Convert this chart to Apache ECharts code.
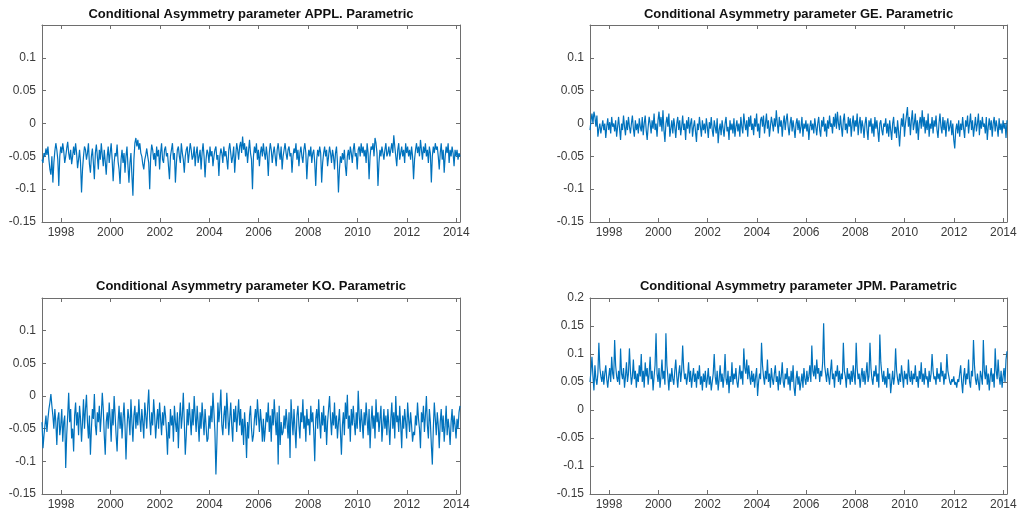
<!DOCTYPE html>
<html>
<head>
<meta charset="utf-8">
<script src="https://cdn.jsdelivr.net/npm/echarts@6/dist/echarts.min.js"></script>
<style>
html,body{margin:0;padding:0;background:#fff;}
#chart{width:1021px;height:516px;}
</style>
</head>
<body>
<div id="chart"></div>
<script>
// ---- data ----
const yearTicks = [1998, 2000, 2002, 2004, 2006, 2008, 2010, 2012, 2014];
const dateStart = 1997.23;
const dateEnd = 2014.15;

const titles = [
  'Conditional Asymmetry parameter APPL. Parametric',
  'Conditional Asymmetry parameter GE. Parametric',
  'Conditional Asymmetry parameter KO. Parametric',
  'Conditional Asymmetry parameter JPM. Parametric'
];

const applValues = [
-0.055,-0.06,-0.045,-0.05,-0.038,-0.048,-0.035,-0.055,-0.07,-0.078,-0.05,-0.09,-0.06,-0.042,-0.03,-0.04,-0.055,-0.095,-0.05,-0.035,-0.045,-0.03,-0.042,-0.06,-0.05,
-0.038,-0.028,-0.045,-0.055,-0.04,-0.062,-0.05,-0.035,-0.048,-0.03,-0.045,-0.068,-0.055,-0.04,-0.06,-0.105,-0.07,-0.05,-0.035,-0.04,-0.055,-0.045,-0.03,-0.062,-0.075,
-0.05,-0.038,-0.06,-0.085,-0.045,-0.032,-0.05,-0.07,-0.04,-0.055,-0.03,-0.048,-0.065,-0.04,-0.058,-0.078,-0.05,-0.035,-0.06,-0.045,-0.03,-0.055,-0.088,-0.06,-0.045,
-0.05,-0.032,-0.058,-0.07,-0.092,-0.055,-0.04,-0.06,-0.045,-0.075,-0.05,-0.035,-0.065,-0.09,-0.06,-0.045,-0.08,-0.11,-0.055,-0.03,-0.022,-0.035,-0.025,-0.04,-0.03,
-0.045,-0.05,-0.062,-0.07,-0.055,-0.048,-0.038,-0.05,-0.06,-0.1,-0.05,-0.032,-0.04,-0.055,-0.045,-0.065,-0.035,-0.05,-0.04,-0.07,-0.045,-0.03,-0.055,-0.06,-0.04,
-0.035,-0.05,-0.045,-0.065,-0.085,-0.05,-0.04,-0.03,-0.055,-0.045,-0.09,-0.06,-0.04,-0.035,-0.05,-0.06,-0.03,-0.045,-0.055,-0.075,-0.05,-0.04,-0.035,-0.06,-0.045,
-0.03,-0.04,-0.055,-0.05,-0.035,-0.065,-0.045,-0.035,-0.06,-0.05,-0.04,-0.07,-0.045,-0.03,-0.05,-0.082,-0.055,-0.04,-0.045,-0.06,-0.035,-0.05,-0.042,-0.065,-0.05,
-0.04,-0.035,-0.055,-0.048,-0.08,-0.05,-0.038,-0.045,-0.06,-0.035,-0.05,-0.042,-0.055,-0.07,-0.04,-0.03,-0.045,-0.06,-0.05,-0.035,-0.075,-0.05,-0.03,-0.04,-0.055,
-0.035,-0.028,-0.045,-0.02,-0.04,-0.03,-0.05,-0.035,-0.06,-0.042,-0.025,-0.045,-0.055,-0.1,-0.05,-0.035,-0.045,-0.03,-0.055,-0.04,-0.065,-0.045,-0.035,-0.05,-0.03,
-0.045,-0.055,-0.035,-0.05,-0.08,-0.045,-0.03,-0.04,-0.06,-0.045,-0.035,-0.05,-0.065,-0.04,-0.03,-0.045,-0.055,-0.035,-0.07,-0.05,-0.04,-0.03,-0.045,-0.055,-0.04,
-0.035,-0.05,-0.045,-0.075,-0.05,-0.038,-0.045,-0.03,-0.055,-0.04,-0.065,-0.045,-0.035,-0.05,-0.06,-0.04,-0.03,-0.045,-0.085,-0.055,-0.04,-0.05,-0.035,-0.06,-0.045,
-0.04,-0.06,-0.095,-0.055,-0.04,-0.05,-0.035,-0.045,-0.09,-0.06,-0.045,-0.035,-0.05,-0.04,-0.065,-0.05,-0.035,-0.045,-0.06,-0.04,-0.05,-0.07,-0.045,-0.035,-0.06,
-0.105,-0.07,-0.05,-0.06,-0.045,-0.055,-0.04,-0.065,-0.08,-0.05,-0.04,-0.055,-0.035,-0.045,-0.06,-0.04,-0.03,-0.05,-0.045,-0.07,-0.04,-0.035,-0.05,-0.03,-0.045,
-0.035,-0.05,-0.04,-0.06,-0.03,-0.045,-0.085,-0.05,-0.035,-0.04,-0.03,-0.05,-0.022,-0.03,-0.045,-0.095,-0.06,-0.04,-0.05,-0.035,-0.045,-0.055,-0.04,-0.03,-0.05,
-0.045,-0.035,-0.05,-0.04,-0.03,-0.045,-0.018,-0.035,-0.05,-0.065,-0.04,-0.03,-0.055,-0.045,-0.035,-0.05,-0.04,-0.06,-0.03,-0.045,-0.035,-0.05,-0.04,-0.055,-0.035,
-0.05,-0.085,-0.055,-0.04,-0.03,-0.045,-0.035,-0.05,-0.025,-0.04,-0.055,-0.035,-0.045,-0.03,-0.05,-0.04,-0.06,-0.035,-0.045,-0.09,-0.05,-0.035,-0.045,-0.03,-0.04,
-0.035,-0.05,-0.07,-0.045,-0.03,-0.055,-0.04,-0.075,-0.05,-0.035,-0.045,-0.03,-0.06,-0.04,-0.05,-0.035,-0.045,-0.065,-0.04,-0.05,-0.04,-0.055,-0.045,-0.05
];

const geValues = [
-0.01,0.005,0.015,0.0,0.018,0.01,-0.005,0.012,-0.02,-0.008,0.0,-0.015,-0.005,0.005,-0.01,0.0,-0.022,-0.005,0.008,-0.01,0.002,-0.015,0.01,-0.005,0.0,
-0.012,0.005,-0.02,-0.005,0.01,-0.008,-0.025,0.0,-0.01,0.012,-0.005,-0.018,0.005,-0.01,0.01,-0.005,-0.015,0.0,0.012,-0.008,-0.02,0.005,-0.01,0.0,-0.015,
0.008,-0.005,-0.012,0.01,-0.018,0.0,0.012,-0.01,-0.025,-0.005,0.01,0.0,-0.015,0.005,-0.008,0.015,-0.01,0.0,-0.02,0.005,0.018,-0.005,0.01,-0.012,0.02,
-0.01,-0.028,0.0,0.01,-0.005,0.015,-0.02,-0.008,0.005,-0.015,0.008,-0.005,-0.022,0.0,0.01,-0.01,0.005,-0.018,-0.005,0.012,-0.01,0.0,-0.025,0.005,-0.008,
0.01,-0.015,0.0,0.008,-0.02,-0.005,0.005,-0.012,-0.028,0.0,-0.01,0.01,-0.005,-0.02,0.005,-0.01,0.0,-0.015,0.008,-0.005,-0.022,0.002,-0.008,0.01,-0.01,
-0.02,0.005,-0.005,-0.015,0.008,-0.03,-0.01,0.0,-0.018,0.005,-0.008,-0.02,0.0,0.01,-0.012,-0.005,-0.025,0.005,-0.01,0.0,-0.015,0.008,-0.02,-0.005,0.005,
-0.012,0.0,-0.02,0.01,-0.005,-0.015,0.015,0.0,-0.01,0.005,-0.02,0.01,-0.005,0.012,-0.01,0.0,-0.018,0.008,-0.005,0.015,-0.012,0.0,-0.022,0.005,0.01,
-0.005,0.012,-0.015,0.0,0.015,-0.008,0.005,-0.02,-0.005,0.01,0.0,-0.012,0.008,-0.005,0.02,0.0,-0.015,0.01,-0.005,0.005,-0.02,0.0,0.012,-0.01,0.005,
0.015,-0.005,-0.018,0.0,0.01,-0.012,0.005,-0.008,-0.022,0.0,0.008,-0.01,0.005,-0.015,-0.005,0.01,-0.02,0.0,-0.008,0.005,-0.012,0.0,-0.025,-0.005,0.005,
-0.01,0.0,-0.015,0.008,-0.005,-0.018,0.0,0.01,-0.01,-0.02,0.005,-0.005,0.01,-0.012,0.0,-0.02,0.005,-0.008,0.012,-0.005,0.0,-0.015,0.01,-0.005,0.015,
-0.008,0.018,0.0,-0.01,0.012,-0.005,-0.02,0.005,0.015,-0.01,0.0,-0.015,0.01,-0.005,0.008,-0.02,0.0,0.012,-0.012,0.005,-0.005,0.015,-0.018,0.0,0.01,
-0.015,0.005,-0.005,-0.022,0.0,0.01,-0.01,-0.025,0.005,-0.005,0.008,-0.015,0.0,-0.02,0.01,-0.008,0.005,-0.012,-0.028,0.0,0.005,-0.01,-0.018,0.0,-0.005,
0.008,-0.015,0.0,-0.02,0.005,-0.01,-0.025,0.0,0.01,-0.015,-0.005,-0.022,0.005,-0.012,-0.035,-0.01,0.008,-0.005,0.015,-0.02,0.0,0.012,0.025,-0.005,0.01,
-0.018,0.005,0.02,-0.01,0.0,0.015,-0.015,0.005,-0.025,0.0,0.01,-0.008,0.02,-0.005,0.01,-0.015,0.005,-0.01,0.015,-0.02,0.0,-0.008,0.01,-0.015,0.005,
-0.005,0.012,-0.01,-0.022,0.0,0.015,-0.005,-0.015,0.01,-0.01,0.005,-0.02,0.0,0.008,-0.012,-0.005,0.005,-0.018,0.0,-0.025,-0.038,-0.01,0.0,-0.015,0.005,
-0.02,0.0,-0.01,0.01,-0.008,-0.022,0.005,-0.005,0.012,-0.015,0.0,0.015,-0.01,0.005,-0.02,-0.005,0.01,-0.012,0.0,0.015,-0.018,0.005,-0.008,0.01,-0.005,
0.0,-0.015,0.01,-0.025,-0.005,0.008,-0.01,0.005,-0.02,0.0,0.01,-0.012,0.005,-0.005,-0.02,0.008,-0.01,0.0,-0.015,0.005,-0.008,0.0,-0.022,0.005
];

const koValues = [
-0.04,-0.08,-0.06,-0.045,-0.03,-0.055,-0.035,-0.02,-0.01,0.003,-0.015,-0.03,-0.05,-0.02,-0.04,-0.075,-0.035,-0.025,-0.06,-0.045,-0.02,-0.07,-0.04,-0.03,-0.11,
-0.06,-0.03,0.005,-0.04,-0.02,-0.065,-0.05,-0.085,-0.03,-0.01,-0.045,-0.025,-0.06,-0.015,-0.035,-0.07,-0.04,-0.005,-0.05,-0.02,0.002,-0.04,-0.065,-0.03,-0.09,
-0.05,-0.02,-0.035,0.003,-0.045,-0.06,-0.025,-0.04,-0.015,-0.055,-0.03,0.005,-0.02,-0.06,-0.09,-0.04,-0.025,-0.05,-0.01,-0.035,-0.07,-0.02,-0.045,0.0,-0.03,
-0.06,-0.085,-0.04,-0.015,-0.05,-0.025,-0.065,-0.035,-0.01,-0.045,-0.097,-0.05,-0.02,-0.035,-0.06,-0.005,-0.04,-0.07,-0.03,-0.015,-0.05,-0.025,-0.045,-0.005,-0.035,
-0.055,-0.02,-0.04,-0.065,-0.01,-0.03,-0.05,-0.015,0.01,-0.035,-0.06,-0.025,-0.045,-0.005,-0.03,-0.065,-0.04,-0.02,-0.05,-0.01,-0.035,-0.06,-0.025,-0.045,-0.015,
-0.03,-0.055,-0.09,-0.04,-0.065,-0.02,-0.045,-0.03,-0.07,-0.015,-0.04,-0.055,-0.025,-0.08,-0.035,-0.01,-0.05,-0.03,0.005,-0.04,-0.09,-0.06,-0.02,-0.045,-0.01,
-0.035,-0.06,-0.02,-0.045,0.0,-0.03,-0.055,-0.015,-0.04,-0.07,-0.025,-0.05,-0.01,-0.035,-0.06,-0.02,-0.045,-0.07,-0.065,-0.03,-0.05,-0.015,-0.04,0.005,-0.025,
-0.055,-0.12,-0.07,-0.01,-0.04,-0.02,0.01,-0.045,-0.06,-0.03,-0.015,-0.05,0.005,-0.025,-0.06,-0.035,-0.01,-0.045,-0.07,-0.02,-0.04,-0.015,-0.055,-0.03,-0.005,
-0.045,-0.02,-0.06,-0.035,-0.075,-0.025,-0.05,-0.095,-0.04,-0.065,-0.03,-0.015,-0.05,-0.07,-0.06,-0.035,-0.02,-0.045,-0.005,-0.03,-0.055,-0.02,-0.04,-0.07,-0.035,
-0.07,-0.05,-0.025,-0.04,-0.01,-0.055,-0.03,-0.07,-0.02,-0.045,-0.005,-0.035,-0.06,-0.025,-0.105,-0.015,-0.075,-0.04,-0.06,-0.055,-0.03,-0.05,-0.02,-0.04,-0.065,
-0.025,-0.095,-0.005,-0.035,-0.06,-0.02,-0.05,-0.08,-0.03,-0.015,-0.045,-0.065,-0.025,-0.04,-0.005,-0.05,-0.03,-0.07,-0.02,-0.045,-0.035,-0.06,-0.015,-0.04,-0.025,
-0.055,-0.1,-0.035,-0.02,-0.05,-0.005,-0.04,-0.065,-0.025,-0.045,-0.015,-0.055,-0.03,-0.075,-0.04,-0.02,0.0,-0.035,-0.06,-0.025,-0.045,-0.01,-0.05,-0.03,-0.065,
-0.04,-0.02,-0.055,-0.09,-0.045,-0.025,-0.06,-0.01,-0.035,0.002,-0.05,-0.03,-0.07,-0.02,-0.045,-0.015,-0.04,-0.06,-0.025,-0.05,0.008,-0.03,-0.055,-0.02,-0.04,
-0.065,-0.025,-0.045,-0.01,-0.035,-0.06,-0.02,-0.08,-0.04,-0.015,-0.05,-0.03,-0.065,-0.005,-0.04,-0.025,-0.055,-0.035,-0.015,-0.07,-0.045,-0.02,-0.05,-0.03,-0.06,
-0.02,-0.045,-0.075,-0.035,-0.01,-0.05,-0.025,-0.065,0.0,-0.04,-0.03,-0.055,-0.015,-0.045,-0.08,-0.03,-0.05,-0.02,-0.04,-0.065,-0.01,-0.035,-0.055,-0.025,-0.045,
-0.07,-0.055,-0.06,-0.03,-0.045,-0.01,-0.035,-0.05,-0.08,-0.025,-0.04,-0.015,-0.055,-0.03,0.0,-0.045,-0.065,-0.02,-0.04,-0.075,-0.105,-0.05,-0.01,-0.035,-0.06,
-0.025,-0.045,-0.08,-0.04,-0.02,-0.055,-0.03,-0.07,-0.045,-0.015,-0.06,-0.035,-0.05,-0.075,-0.04,-0.02,-0.055,-0.03,-0.045,-0.065,-0.035,-0.05,-0.025,-0.015
];

const jpmValues = [
0.05,0.07,0.095,0.06,0.035,0.08,0.055,0.045,0.065,0.12,0.075,0.06,0.05,0.07,0.045,0.065,0.08,0.055,0.04,0.06,0.075,0.05,0.095,0.065,0.055,
0.125,0.08,0.06,0.05,0.07,0.045,0.11,0.065,0.055,0.075,0.04,0.06,0.085,0.05,0.065,0.11,0.07,0.045,0.06,0.09,0.055,0.07,0.04,0.065,0.05,
0.08,0.06,0.1,0.05,0.07,0.04,0.085,0.06,0.075,0.045,0.065,0.095,0.055,0.07,0.035,0.06,0.08,0.137,0.065,0.05,0.075,0.04,0.06,0.09,0.055,
0.07,0.045,0.137,0.08,0.06,0.035,0.065,0.05,0.075,0.055,0.045,0.07,0.09,0.06,0.04,0.065,0.08,0.05,0.07,0.115,0.075,0.055,0.065,0.045,0.06,
0.085,0.05,0.07,0.04,0.06,0.075,0.05,0.065,0.04,0.07,0.055,0.08,0.045,0.06,0.035,0.065,0.05,0.07,0.04,0.055,0.075,0.045,0.06,0.035,0.05,
0.065,0.1,0.06,0.045,0.07,0.035,0.055,0.08,0.05,0.065,0.04,0.06,0.1,0.055,0.045,0.07,0.03,0.06,0.05,0.085,0.045,0.065,0.055,0.075,0.05,
0.04,0.06,0.08,0.055,0.07,0.045,0.11,0.075,0.065,0.09,0.055,0.08,0.06,0.045,0.07,0.05,0.065,0.04,0.06,0.075,0.025,0.05,0.065,0.055,0.12,
0.08,0.06,0.045,0.07,0.055,0.09,0.05,0.065,0.04,0.075,0.055,0.045,0.065,0.08,0.05,0.06,0.035,0.07,0.045,0.06,0.085,0.05,0.04,0.065,0.055,
0.075,0.045,0.06,0.035,0.07,0.05,0.08,0.04,0.025,0.055,0.07,0.045,0.06,0.035,0.05,0.065,0.04,0.075,0.055,0.045,0.07,0.05,0.06,0.08,0.05,
0.115,0.07,0.06,0.08,0.055,0.09,0.065,0.075,0.05,0.07,0.06,0.085,0.155,0.08,0.065,0.05,0.075,0.06,0.045,0.07,0.09,0.055,0.065,0.04,0.07,
0.06,0.08,0.05,0.07,0.045,0.065,0.055,0.12,0.07,0.06,0.04,0.075,0.055,0.065,0.045,0.07,0.05,0.08,0.06,0.045,0.12,0.075,0.055,0.065,0.04,
0.06,0.075,0.05,0.07,0.045,0.065,0.085,0.05,0.06,0.12,0.075,0.055,0.045,0.07,0.06,0.08,0.05,0.065,0.04,0.135,0.085,0.065,0.05,0.07,0.045,
0.06,0.04,0.075,0.055,0.065,0.03,0.05,0.07,0.045,0.06,0.11,0.07,0.055,0.045,0.065,0.05,0.08,0.06,0.04,0.07,0.055,0.065,0.045,0.09,0.06,
0.05,0.07,0.045,0.065,0.055,0.08,0.05,0.06,0.04,0.07,0.055,0.085,0.05,0.065,0.045,0.075,0.055,0.06,0.04,0.07,0.05,0.065,0.1,0.07,0.055,
0.06,0.045,0.075,0.055,0.065,0.05,0.085,0.06,0.07,0.045,0.065,0.055,0.1,0.07,0.06,0.05,0.045,0.055,0.05,0.06,0.045,0.05,0.04,0.055,0.05,
0.065,0.08,0.05,0.03,0.06,0.075,0.045,0.065,0.055,0.09,0.05,0.04,0.07,0.06,0.125,0.08,0.055,0.045,0.065,0.05,0.035,0.07,0.06,0.045,0.125,
0.07,0.055,0.08,0.045,0.065,0.035,0.06,0.075,0.05,0.065,0.04,0.11,0.07,0.055,0.09,0.06,0.045,0.07,0.04,0.06,0.075,0.05,0.09,0.105
];

const yMins = [-0.15, -0.15, -0.15, -0.15];
const yMaxs = [0.15, 0.15, 0.15, 0.2];
const showTopLabel = [false, false, false, true];
const allValues = [applValues, geValues, koValues, jpmValues];

// ---- layout ----
const grids = [
  {left: 42, top: 25, width: 418, height: 197},
  {left: 590, top: 25, width: 417, height: 197},
  {left: 42, top: 298, width: 418, height: 196},
  {left: 590, top: 298, width: 417, height: 196}
];
const titleY = [14, 14, 286, 286];

const boxColor = '#6e6e6e';
const labelColor = '#3a3a3a';
const font = '"Liberation Sans", Arial, Helvetica, sans-serif';

function toPairs(values) {
  const step = (dateEnd - dateStart) / (values.length - 1);
  return values.map((v, i) => [dateStart + i * step, v]);
}

const xAxes = [], yAxes = [], series = [], graphics = [];
grids.forEach((g, k) => {
  const common = {
    gridIndex: k,
    type: 'value',
    min: dateStart,
    max: dateEnd,
    splitLine: {show: false},
    axisLine: {show: true, onZero: false, lineStyle: {color: boxColor, width: 1}},
    axisTick: {show: true, inside: true, length: 4, customValues: yearTicks, lineStyle: {color: boxColor}}
  };
  xAxes.push(Object.assign({}, common, {
    position: 'bottom',
    axisLabel: {show: true, customValues: yearTicks, formatter: v => String(Math.round(v)),
      color: labelColor, fontSize: 12, fontFamily: font, margin: 5}
  }));
  xAxes.push(Object.assign({}, common, {
    position: 'top',
    axisLabel: {show: false}
  }));
  const yCommon = {
    gridIndex: k,
    type: 'value',
    min: yMins[k],
    max: yMaxs[k],
    interval: 0.05,
    splitLine: {show: false},
    axisLine: {show: true, onZero: false, lineStyle: {color: boxColor, width: 1}},
    axisTick: {show: true, inside: true, length: 4, lineStyle: {color: boxColor}}
  };
  yAxes.push(Object.assign({}, yCommon, {
    position: 'left',
    axisLabel: {show: true, color: labelColor, fontSize: 12, fontFamily: font, margin: 6,
      showMaxLabel: showTopLabel[k], showMinLabel: true,
      formatter: v => String(Math.round(v * 100) / 100)}
  }));
  yAxes.push(Object.assign({}, yCommon, {
    position: 'right',
    axisLabel: {show: false}
  }));
  series.push({
    type: 'line',
    xAxisIndex: 2 * k,
    yAxisIndex: 2 * k,
    data: toPairs(allValues[k]),
    showSymbol: false,
    symbol: 'none',
    lineStyle: {color: '#0072BD', width: 1.2},
    silent: true,
    animation: false
  });
  graphics.push({
    type: 'text',
    x: g.left + g.width / 2,
    y: titleY[k],
    style: {
      text: titles[k],
      fill: '#111',
      font: 'bold 13px ' + font,
      textAlign: 'center',
      textVerticalAlign: 'middle'
    }
  });
});

const chart = echarts.init(document.getElementById('chart'), null, {renderer: 'canvas'});
chart.setOption({
  animation: false,
  backgroundColor: '#ffffff',
  grid: grids,
  xAxis: xAxes,
  yAxis: yAxes,
  series: series,
  graphic: graphics
});
</script>
</body>
</html>
